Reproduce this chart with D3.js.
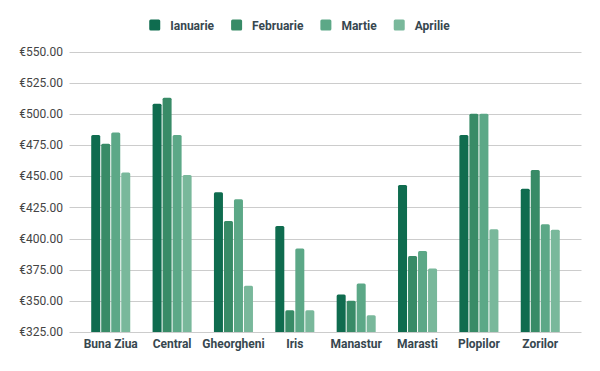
<!DOCTYPE html>
<html>
<head>
<meta charset="utf-8">
<script src="https://cdn.jsdelivr.net/npm/d3@7"></script>
<style>
  body { margin: 0; background: #fff; }
  svg { display: block; font-family: Roboto, Arial, sans-serif; }
</style>
</head>
<body>
<svg width="600" height="371"></svg>
<script>
const categories = ["Buna Ziua", "Central", "Gheorgheni", "Iris", "Manastur", "Marasti", "Plopilor", "Zorilor"];
const seriesNames = ["Ianuarie", "Februarie", "Martie", "Aprilie"];
const ianuarie  = [483, 508, 437, 410, 355, 443, 483, 440];
const februarie = [476, 513, 414, 342.5, 350, 386, 500, 455];
const martie    = [485, 483, 431.5, 392, 364, 390, 500, 411.5];
const aprilie   = [453, 451, 362, 342.5, 338.5, 376, 407.5, 407];
const yTicks = [325, 350, 375, 400, 425, 450, 475, 500, 525, 550];

const colors = ["#0f6c4f", "#388b67", "#5ca887", "#79b89b"];
const seriesValues = [ianuarie, februarie, martie, aprilie];

const svg = d3.select("svg");
const gridLeft = 69.5, gridRight = 581.5;

const y = d3.scaleLinear().domain([325, 550]).range([332, 51.5]);

const x = d3.scaleBand()
    .domain(categories)
    .range([gridLeft, gridRight])
    .paddingInner(0.364)
    .paddingOuter(0.354);

const xInner = d3.scaleBand()
    .domain(seriesNames)
    .range([0, x.bandwidth()])
    .paddingInner(0.1);

// grid lines
svg.append("g")
    .selectAll("line")
    .data(yTicks)
    .join("line")
    .attr("x1", gridLeft)
    .attr("x2", gridRight)
    .attr("y1", d => Math.round(y(d)) + 0.5)
    .attr("y2", d => Math.round(y(d)) + 0.5)
    .attr("stroke", "#cccccc")
    .attr("stroke-width", 1);

// y labels
svg.append("g")
    .selectAll("text")
    .data(yTicks)
    .join("text")
    .attr("x", 63)
    .attr("y", d => y(d) + 4.3)
    .attr("text-anchor", "end")
    .attr("font-size", 12)
    .attr("fill", "#444")
    .text(d => "€" + d3.format(".2f")(d));

// bars with slightly rounded tops
function barPath(x0, w, yTop, yBase) {
    const r = 1.5;
    return `M${x0},${yBase}V${yTop + r}Q${x0},${yTop} ${x0 + r},${yTop}` +
        `H${x0 + w - r}Q${x0 + w},${yTop} ${x0 + w},${yTop + r}V${yBase}Z`;
}

const bars = svg.append("g");
categories.forEach((c, i) => {
    seriesNames.forEach((s, j) => {
        const v = seriesValues[j][i];
        bars.append("path")
            .attr("d", barPath(x(c) + xInner(s), xInner.bandwidth(), y(v), y(325)))
            .attr("fill", colors[j]);
    });
});

// x labels
svg.append("g")
    .selectAll("text")
    .data(categories)
    .join("text")
    .attr("x", d => x(d) + x.bandwidth() / 2)
    .attr("y", 347.5)
    .attr("text-anchor", "middle")
    .attr("font-size", 12)
    .attr("font-weight", "bold")
    .attr("fill", "#37474f")
    .text(d => d);

// legend
const legend = svg.append("g");
let lx = 0;
seriesNames.forEach((s, j) => {
    const item = legend.append("g").attr("transform", `translate(${lx},0)`);
    item.append("rect")
        .attr("x", 0).attr("y", 19.5)
        .attr("width", 11).attr("height", 11)
        .attr("rx", 1.5)
        .attr("fill", colors[j]);
    const t = item.append("text")
        .attr("x", 21).attr("y", 30)
        .attr("font-size", 12)
        .attr("font-weight", "bold")
        .attr("fill", "#37474f")
        .text(s);
    lx += 21 + t.node().getComputedTextLength() + 17;
});
const legendW = lx - 17;
legend.attr("transform", `translate(${(149 + 450) / 2 - legendW / 2},0)`);
</script>
</body>
</html>
